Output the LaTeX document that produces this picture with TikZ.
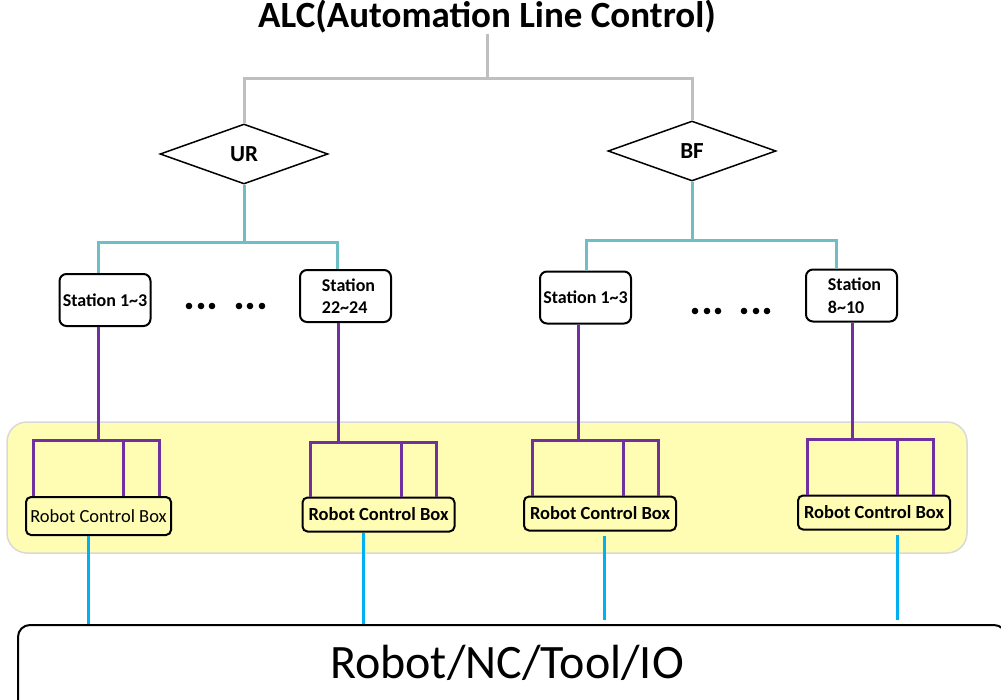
\documentclass[tikz,border=0pt]{standalone}
\usepackage{fontspec}
\setmainfont{Carlito}
\usetikzlibrary{shapes.geometric}
\definecolor{linegrey}{RGB}{191,191,191}
\definecolor{tealline}{RGB}{111,190,198}
\definecolor{purpline}{RGB}{112,48,160}
\definecolor{blueline}{RGB}{0,176,240}
\definecolor{bandfill}{RGB}{255,253,179}
\definecolor{bandedge}{RGB}{217,217,217}
\tikzset{
  gline/.style={draw=linegrey, line width=3pt},
  tline/.style={draw=tealline, line width=3pt},
  pline/.style={draw=purpline, line width=3pt},
  bline/.style={draw=blueline, line width=3pt},
  dia/.style={diamond, draw, line width=1.5pt, minimum width=168pt, minimum height=60pt, inner sep=0pt, font=\fontsize{23}{26}\selectfont\bfseries},
  stbox/.style={rectangle, rounded corners=7pt, draw, line width=2pt, fill=white, inner sep=0pt, minimum width=91pt, minimum height=52pt, font=\fontsize{18}{22.5}\selectfont\bfseries},
  rcb/.style={rectangle, rounded corners=5pt, draw, line width=2pt, fill=bandfill, inner sep=0pt, minimum width=152pt, minimum height=34pt, font=\fontsize{18.5}{20}\selectfont\bfseries},
  dotm/.style={fill=black}
}
\begin{document}
\begin{tikzpicture}[x=1pt,y=-1pt]
\useasboundingbox (0,0) rectangle (1001,699);
% band
\node[rectangle, rounded corners=20pt, draw=bandedge, fill=bandfill, line width=1.5pt, minimum width=960pt, minimum height=131pt, inner sep=0pt] (band) at (487,487.5) {};
% title
\node[font=\fontsize{37}{40}\selectfont\bfseries, inner sep=0pt] (title) at (487,17) {ALC(Automation Line Control)};
% diamonds
\node[dia] (ur) at (244,154) {UR};
\node[dia] (bf) at (692,151) {BF};
% stations
\node[stbox] (s1) at (105,300) {Station 1\textasciitilde 3};
\node[stbox, align=left] (s2) at (345.5,296) {\hspace*{6pt}Station\\\hspace*{6pt}22\textasciitilde 24};
\node[stbox] (s3) at (585.5,297.5) {Station 1\textasciitilde 3};
\node[stbox, align=left] (s4) at (851.5,295.5) {\hspace*{6pt}Station\\\hspace*{6pt}8\textasciitilde 10};
% robot control boxes
\node[rcb, font=\fontsize{18.5}{20}\selectfont, minimum width=145pt, minimum height=38pt] (r1) at (98.5,516) {Robot Control Box};
\node[rcb] (r2) at (378.5,514.5) {Robot Control Box};
\node[rcb] (r3) at (600,513.5) {Robot Control Box};
\node[rcb] (r4) at (874,512.5) {Robot Control Box};
% bottom box
\node[rectangle, rounded corners=12pt, draw, line width=2pt, minimum width=988pt, minimum height=110pt, inner sep=0pt, anchor=north west] (io) at (17,624) {};
\node[font=\fontsize{48}{52}\selectfont, inner sep=0pt] (iotext) at (507,663) {Robot/NC/Tool/IO};
% grey lines
\coordinate (gj) at (487,78);
\draw[gline] (title.south) -- (gj);
\draw[gline] (gj) -| (ur.north);
\draw[gline] (gj) -| (bf.north);
% teal lines
\coordinate (tu) at (244,242);
\coordinate (t1) at (98,242);
\coordinate (t2) at (337,242);
\draw[tline] (ur.south) -- (tu);
\draw[tline] (t1 |- s1.north) -- (t1) -- (t2) -- (t2 |- s2.north);
\coordinate (tb) at (692,240);
\coordinate (t3) at (586,240);
\coordinate (t4) at (836,240);
\draw[tline] (bf.south) -- (tb);
\draw[tline] (t3 |- s3.north) -- (t3) -- (t4) -- (t4 |- s4.north);
% purple lines
\coordinate (p1) at (98,440);
\coordinate (p1a) at (33,440);
\coordinate (p1b) at (123,440);
\coordinate (p1c) at (159,440);
\draw[pline] (p1 |- s1.south) -- (p1);
\draw[pline] (p1a |- r1.north) -- (p1a) -- (p1c) -- (p1c |- r1.north);
\draw[pline] (p1b) -- (p1b |- r1.north);
\coordinate (p2) at (338,442);
\coordinate (p2a) at (310,442);
\coordinate (p2b) at (401,442);
\coordinate (p2c) at (436,442);
\draw[pline] (p2 |- s2.south) -- (p2);
\draw[pline] (p2a |- r2.north) -- (p2a) -- (p2c) -- (p2c |- r2.north);
\draw[pline] (p2b) -- (p2b |- r2.north);
\coordinate (p3) at (578,440);
\coordinate (p3a) at (532,440);
\coordinate (p3b) at (623,440);
\coordinate (p3c) at (658,440);
\draw[pline] (p3 |- s3.south) -- (p3);
\draw[pline] (p3a |- r3.north) -- (p3a) -- (p3c) -- (p3c |- r3.north);
\draw[pline] (p3b) -- (p3b |- r3.north);
\coordinate (p4) at (852,439);
\coordinate (p4a) at (807,439);
\coordinate (p4b) at (897,439);
\coordinate (p4c) at (933,439);
\draw[pline] (p4 |- s4.south) -- (p4);
\draw[pline] (p4a |- r4.north) -- (p4a) -- (p4c) -- (p4c |- r4.north);
\draw[pline] (p4b) -- (p4b |- r4.north);
% blue lines
\coordinate (b1) at (88,624);
\coordinate (b2) at (363,624);
\coordinate (b3) at (604,620);
\coordinate (b4) at (897,620);
\draw[bline] (b1 |- r1.south) -- (b1);
\draw[bline] (b2 |- r2.south) -- (b2);
\draw[bline] (b3 |- r3.south) ++(0,4) -- (b3);
\draw[bline] (b4 |- r4.south) ++(0,4) -- (b4);
% dots
\foreach \x in {189,201,212,239,250,262} \fill[dotm] (\x,306) circle (3.3pt);
\foreach \x in {695,707,718,744,756,767} \fill[dotm] (\x,311) circle (3.3pt);
\end{tikzpicture}
\end{document}
